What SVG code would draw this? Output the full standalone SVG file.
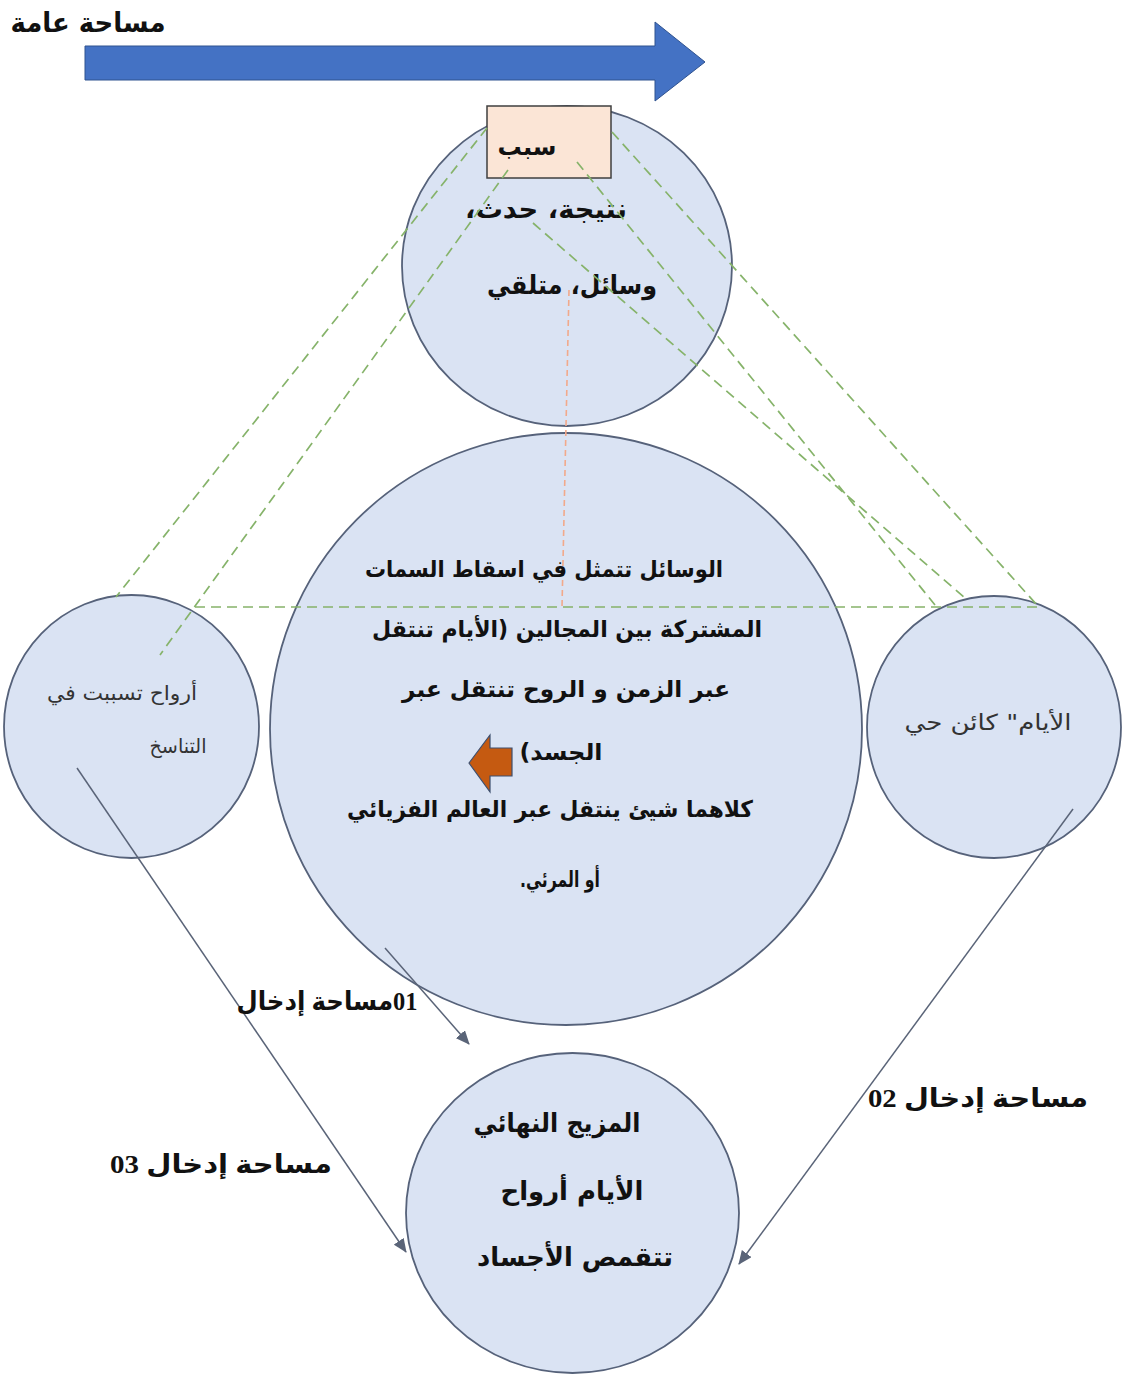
<svg xmlns="http://www.w3.org/2000/svg" width="1124" height="1375" viewBox="0 0 1124 1375">
<style>
.c{fill:#DAE3F3;stroke:#56627A;stroke-width:1.8}
.t{font-family:"DejaVu Sans",sans-serif;fill:#111;direction:rtl;text-anchor:middle}
.b{font-weight:bold}
.r{font-weight:normal;fill:#333}
.g{stroke:#86B36A;stroke-width:1.7;stroke-dasharray:10 6;fill:none}
.o{stroke:#F2A98A;stroke-width:1.6;stroke-dasharray:6 4;fill:none}
.a{stroke:#5A6478;stroke-width:1.5;fill:none;marker-end:url(#ah)}
.lbl{font-family:"Liberation Serif","DejaVu Sans",serif;font-weight:bold;fill:#111;direction:rtl;text-anchor:middle}
</style>
<defs>
<marker id="ah" viewBox="0 0 14 12" refX="13" refY="6" markerWidth="14" markerHeight="12" orient="auto" markerUnits="userSpaceOnUse">
<path d="M0,0 L14,6 L0,12 z" fill="#5A6478"/>
</marker>
</defs>
<rect width="1124" height="1375" fill="#fff"/>

<g id="title">
<text class="t b" x="88" y="32" font-size="27" textLength="155" lengthAdjust="spacingAndGlyphs">مساحة عامة</text>
<path d="M85,46 L655,46 L655,22 L705,62 L655,101 L655,80 L85,80 Z" fill="#4472C4" stroke="#2F528F" stroke-width="1"/>
</g>

<g id="node-top">
<ellipse class="c" cx="567" cy="266" rx="165" ry="160"/>
<rect x="487" y="106" width="124" height="72" fill="#FBE5D6" stroke="#3F3F3F" stroke-width="1.5"/>
<text class="t b" x="527" y="155" font-size="24" textLength="59" lengthAdjust="spacingAndGlyphs">سبب</text>
<text class="t b" x="546" y="218" font-size="26" textLength="162" lengthAdjust="spacingAndGlyphs">نتيجة، حدث،</text>
<text class="t b" x="572" y="294" font-size="26" textLength="170" lengthAdjust="spacingAndGlyphs">وسائل، متلقي</text>
</g>

<g id="node-middle">
<circle class="c" cx="566" cy="729" r="296"/>
</g>

<g id="node-left">
<ellipse class="c" cx="131.5" cy="726.5" rx="127.5" ry="131.5"/>
</g>

<g id="node-right">
<ellipse class="c" cx="994" cy="727" rx="127" ry="131"/>
</g>

<g id="node-bottom">
<ellipse class="c" cx="572.5" cy="1213" rx="166.5" ry="160"/>
</g>

<g id="connectors">
<line class="g" x1="487" y1="128" x2="116" y2="597"/>
<line class="g" x1="508" y1="170" x2="160" y2="655"/>
<line class="g" x1="195" y1="607" x2="1040" y2="607"/>
<line class="g" x1="612" y1="132" x2="1037" y2="605"/>
<line class="g" x1="577" y1="162" x2="935" y2="605"/>
<line class="g" x1="533" y1="223" x2="965" y2="598"/>
<line class="o" x1="569" y1="290" x2="562" y2="607"/>
<line class="a" x1="77" y1="768" x2="406" y2="1252"/>
<line class="a" x1="1073" y1="809" x2="739" y2="1264"/>
<line class="a" x1="385" y1="948" x2="469" y2="1044"/>
</g>

<g id="texts-middle">
<text class="t b" x="544" y="577" font-size="23" textLength="358" lengthAdjust="spacingAndGlyphs">الوسائل تتمثل في اسقاط السمات</text>
<text class="t b" x="567" y="637" font-size="23" textLength="390" lengthAdjust="spacingAndGlyphs">المشتركة بين المجالين (الأيام تنتقل</text>
<text class="t b" x="566" y="697" font-size="23" textLength="328" lengthAdjust="spacingAndGlyphs">عبر الزمن و الروح تنتقل عبر</text>
<text class="t b" x="561" y="760" font-size="23" textLength="83" lengthAdjust="spacingAndGlyphs">الجسد)</text>
<path d="M469,763 L490,735 L490,748 L512,748 L512,776 L490,776 L490,792 Z" fill="#C55A11" stroke="#3D4F6E" stroke-width="1.2"/>
<text class="t b" x="550" y="817" font-size="23" textLength="406" lengthAdjust="spacingAndGlyphs">كلاهما شيئ ينتقل عبر العالم الفزيائي</text>
<text class="t b" x="560" y="887" font-size="22" textLength="80" lengthAdjust="spacingAndGlyphs">أو المرئي.</text>
</g>

<g id="texts-side">
<text class="t r" x="122" y="700" font-size="20" textLength="150" lengthAdjust="spacingAndGlyphs">أرواح تسببت  في</text>
<text class="t r" x="178" y="753" font-size="20" textLength="57" lengthAdjust="spacingAndGlyphs">التناسخ</text>
<text class="t r" x="988" y="730" font-size="22" textLength="167" lengthAdjust="spacingAndGlyphs">الأيام" كائن حي</text>
</g>

<g id="texts-bottom">
<text class="t b" x="557" y="1132" font-size="26" textLength="167" lengthAdjust="spacingAndGlyphs">المزيج النهائي</text>
<text class="t b" x="572" y="1200" font-size="26" textLength="143" lengthAdjust="spacingAndGlyphs">الأيام أرواح</text>
<text class="t b" x="575" y="1266" font-size="26" textLength="196" lengthAdjust="spacingAndGlyphs">تتقمص الأجساد</text>
</g>

<g id="labels">
<text class="lbl" x="327" y="1010" font-size="26" textLength="181" lengthAdjust="spacingAndGlyphs">01مساحة إدخال</text>
<text class="lbl" x="978" y="1107" font-size="26" textLength="220" lengthAdjust="spacingAndGlyphs">مساحة إدخال 02</text>
<text class="lbl" x="221" y="1173" font-size="26" textLength="222" lengthAdjust="spacingAndGlyphs">مساحة إدخال 03</text>
</g>
</svg>
